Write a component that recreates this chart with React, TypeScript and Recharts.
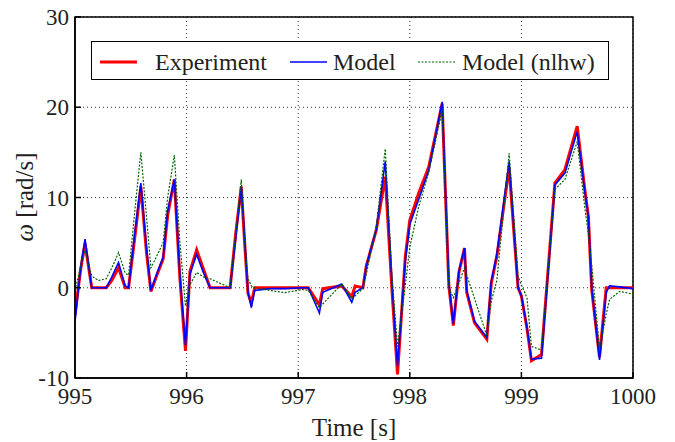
import React from 'react';
import { LineChart, Line, XAxis, YAxis, CartesianGrid, ReferenceArea, Legend, Label } from 'recharts';

const times = [
  995.00, 995.05, 995.09, 995.15, 995.21, 995.28, 995.33, 995.39, 995.45, 995.48,
  995.54, 995.59, 995.64, 995.68, 995.74, 995.79, 995.83, 995.89, 995.94, 995.99,
  996.03, 996.09, 996.15, 996.21, 996.39, 996.44, 996.49, 996.52, 996.55, 996.58,
  996.61, 996.75, 996.88, 997.04, 997.09, 997.19, 997.22, 997.39, 997.48, 997.51,
  997.58, 997.61, 997.70, 997.78, 997.84, 997.89, 997.96, 998.00, 998.08, 998.17,
  998.29, 998.35, 998.39, 998.44, 998.49, 998.51, 998.58, 998.69, 998.73, 998.78,
  998.89, 998.97, 999.00, 999.05, 999.09, 999.18, 999.30, 999.39, 999.50, 999.57,
  999.60, 999.63, 999.70, 999.76, 999.79, 999.88, 1000.00,
];

const experiment = [
  -3.0, 2.0, 4.9, 0, 0, 0, 0.8, 2.2, 0, 0,
  6.0, 11.2, 4.0, -0.4, 1.6, 3.2, 8.0, 12.0, 1.0, -7.0,
  1.8, 4.2, 2.1, 0, 0, 6.0, 11.2, 5.0, -0.6, -1.7,
  0, 0, 0, 0, 0, -1.9, -0.1, 0.2, -1.0, 0.2,
  0, 2.4, 6.4, 12.3, -0.2, -9.6, 3.5, 7.5, 10.5, 13.4,
  20.4, 0.2, -4.2, 1.7, 4.4, -0.5, -3.9, -5.7, 0.5, 3.5,
  13.3, 0, -0.9, -4.5, -8.1, -7.4, 11.6, 13.1, 17.9, 10.7,
  7.9, -0.2, -7.7, 0, 0, 0, 0,
];

const model = [
  -3.8, 2.2, 5.4, 0, 0, 0, 1.2, 2.8, 0.2, 0,
  6.5, 11.6, 4.5, -0.3, 1.8, 3.4, 8.5, 12.0, 1.5, -6.4,
  1.5, 3.7, 1.7, 0, 0, 5.5, 11.2, 5.5, -0.5, -2.2,
  -0.3, -0.1, -0.1, 0, 0, -2.8, -0.5, 0.4, -1.6, -0.5,
  0, 2.4, 6.5, 14.0, 0.5, -8.7, 3.0, 7.0, 9.8, 13.0,
  20.6, 0.5, -4.0, 1.8, 4.4, -0.3, -3.7, -5.5, 0.7, 3.7,
  14.0, 0, -0.9, -4.4, -7.9, -7.8, 11.4, 12.7, 17.3, 10.5,
  7.9, 0, -8.0, -0.5, 0.2, 0.1, -0.1,
];

const modelNlhw = [
  -0.3, 2.3, 4.2, 1.3, 0.8, 1.0, 2.2, 3.9, 1.6, 1.4,
  9.0, 15.0, 8.0, 2.2, 3.7, 5.0, 10.0, 14.7, 5.0, -2.0,
  0.3, 1.7, 1.2, 1.0, 0, 6.0, 12.0, 5.0, 1.0, 0.2,
  0, -0.3, -0.55, -0.2, -0.3, -2.2, -1.8, 0.4, -1.2, -0.9,
  -0.1, 1.5, 6.8, 15.4, 1.3, -6.5, 0.3, 4.5, 9.0, 12.8,
  19.7, 0, -1.1, 0.5, 2.2, 1.4, -1.2, -5.3, -1.5, 0.8,
  14.9, 1.3, 0.3, -1.1, -6.5, -6.9, 10.9, 12.0, 16.2, 8.7,
  6.0, 2.5, -6.8, -2.9, -1.3, -0.4, -0.7,
];

const xTicks = [995, 996, 997, 998, 999, 1000];
const yTicks = [-10, 0, 10, 20, 30];

const seriesNames = ['Experiment', 'Model', 'Model (nlhw)'];

const data = times.map((t, i) => ({
  t,
  experiment: experiment[i],
  model: model[i],
  nlhw: modelNlhw[i],
}));

const FONT = '"Liberation Serif", "Times New Roman", Times, serif';
const TEXT = '#231f20';

function XTick(props: any) {
  const { x, y, payload } = props;
  return (
    <text x={x} y={y + 16} textAnchor="middle" fontFamily={FONT} fontSize={23} fill={TEXT}>
      {payload.value}
    </text>
  );
}

function YTick(props: any) {
  const { x, y, payload } = props;
  return (
    <text x={x} y={y + 8} textAnchor="end" fontFamily={FONT} fontSize={23} fill={TEXT}>
      {payload.value}
    </text>
  );
}

function LegendBox() {
  return (
    <svg width={518} height={39} style={{ display: 'block' }}>
      <rect x={0.5} y={0.5} width={517} height={38} fill="#fff" stroke="#000" strokeWidth={1} />
      <line x1={9} x2={46} y1={21} y2={21} stroke="#ff0000" strokeWidth={3} />
      <text x={64} y={29} fontFamily={FONT} fontSize={24} fill={TEXT}>{seriesNames[0]}</text>
      <line x1={199} x2={236} y1={21} y2={21} stroke="#0000ff" strokeWidth={1.6} />
      <text x={242} y={29} fontFamily={FONT} fontSize={24} fill={TEXT}>{seriesNames[1]}</text>
      <line x1={327} x2={364} y1={21} y2={21} stroke="#006400" strokeWidth={1.2} strokeDasharray="2 1.5" />
      <text x={371} y={29} fontFamily={FONT} fontSize={24} fill={TEXT}>{seriesNames[2]}</text>
    </svg>
  );
}

export default function App() {
  return (
    <div style={{ width: 675, height: 442, position: 'relative', background: '#fff', fontFamily: FONT }}>
      <style>{`body{margin:0;background:#fff}`}</style>
      <LineChart
        width={675}
        height={442}
        data={data}
        margin={{ top: 17, right: 42, left: 0, bottom: 0 }}
        style={{ fontFamily: FONT }}
      >
        <CartesianGrid stroke="#333" strokeDasharray="1 3" strokeWidth={1} />
        <XAxis
          dataKey="t"
          type="number"
          domain={[995, 1000]}
          ticks={xTicks}
          allowDataOverflow
          height={64}
          tickSize={-6}
          tickMargin={16}
          axisLine={{ stroke: '#000', strokeWidth: 1.5 }}
          tickLine={{ stroke: '#000', strokeWidth: 1.5 }}
          tick={<XTick />}
        >
          <Label
            content={() => (
              <text x={354} y={436} textAnchor="middle" fontFamily={FONT} fontSize={25} fill={TEXT}>
                Time [s]
              </text>
            )}
          />
        </XAxis>
        <YAxis
          type="number"
          domain={[-10, 30]}
          ticks={yTicks}
          allowDataOverflow
          width={75}
          tickSize={-6}
          tickMargin={12}
          axisLine={{ stroke: '#000', strokeWidth: 1.5 }}
          tickLine={{ stroke: '#000', strokeWidth: 1.5 }}
          tick={<YTick />}
        >
          <Label
            content={() => (
              <text
                x={33}
                y={197}
                transform="rotate(-90 33 197)"
                textAnchor="middle"
                fontFamily={FONT}
                fontSize={25}
                fill={TEXT}
              >
                <tspan fontStyle="italic">ω</tspan>
                <tspan> [rad/s]</tspan>
              </text>
            )}
          />
        </YAxis>
        <ReferenceArea x1={995} x2={1000} y1={-10} y2={30} fill="none" stroke="#000" strokeWidth={1.5} />
        <Line
          type="linear"
          dataKey="experiment"
          name={seriesNames[0]}
          stroke="#ff0000"
          strokeWidth={3}
          dot={false}
          isAnimationActive={false}
        />
        <Line
          type="linear"
          dataKey="model"
          name={seriesNames[1]}
          stroke="#0000ff"
          strokeWidth={1.6}
          dot={false}
          isAnimationActive={false}
        />
        <Line
          type="linear"
          dataKey="nlhw"
          name={seriesNames[2]}
          stroke="#006400"
          strokeWidth={1.2}
          strokeDasharray="2 1.5"
          dot={false}
          isAnimationActive={false}
        />
        <Legend
          layout="horizontal"
          verticalAlign="middle"
          align="center"
          wrapperStyle={{ position: 'absolute', left: 91, top: 41, width: 518, height: 39 }}
          content={() => <LegendBox />}
        />
      </LineChart>
    </div>
  );
}
